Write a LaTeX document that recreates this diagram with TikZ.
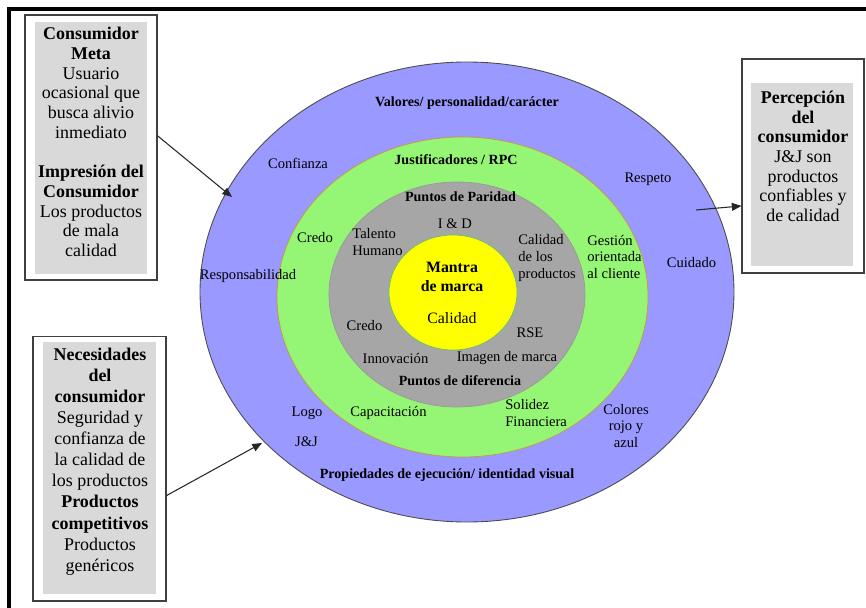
\documentclass[tikz,border=0pt]{standalone}
\usepackage{fontspec}
\setmainfont{Liberation Serif}
\usepackage{tikz}
\usetikzlibrary{arrows.meta}
\definecolor{valblue}{RGB}{153,153,255}
\definecolor{justgreen}{RGB}{148,246,116}
\definecolor{justedge}{RGB}{205,150,60}
\definecolor{paridgray}{RGB}{166,166,166}
\definecolor{mantrayellow}{RGB}{255,255,0}
\definecolor{boxgray}{RGB}{217,217,217}
\tikzset{>/.tip={Triangle[length=5.5pt,width=4.5pt]},
  lbl/.style={font=\fontsize{8.3}{9.6}\selectfont, inner sep=0pt, align=center},
  ttl/.style={font=\fontsize{8}{9.6}\selectfont\bfseries, inner sep=0pt},
  boxtxt/.style={font=\fontsize{10.2}{11.2}\selectfont, inner sep=0pt, align=center},
  frame/.style={draw=black!75, fill=white, line width=0.6pt, inner sep=0pt},
  panel/.style={fill=boxgray, inner sep=0pt}}

\begin{document}
\begin{tikzpicture}[x=0.02cm, y=-0.02cm]
\useasboundingbox (0,0) rectangle (866,608);
\draw[line width=2pt] (9,608) -- (9,9) -- (866,9);
% brand circles
\filldraw[fill=valblue, draw=black!70, line width=0.5pt] (467,292) ellipse [x radius=267, y radius=230];
\filldraw[fill=justgreen, draw=justedge, line width=0.4pt] (462.5,297) ellipse [x radius=185.5, y radius=160];
\filldraw[fill=paridgray, draw=black!40, line width=0.4pt] (457,294.5) ellipse [x radius=128, y radius=112.5];
\filldraw[fill=mantrayellow, draw=green!60!black!60, line width=0.4pt] (453,292.5) ellipse [x radius=64, y radius=57.5];
% side boxes
\node[frame, minimum width=2.64cm, minimum height=5.3cm] (cmeta) at (91,147.5) {};
\node[panel, minimum width=2.24cm, minimum height=5.04cm] (cmetap) at (91,148) {};
\node[boxtxt] (cmetat) at (91,142) {\textbf{Consumidor}\\\textbf{Meta}\\Usuario\\ocasional que\\busca alivio\\inmediato\\[11.2pt]\textbf{Impresión del}\\\textbf{Consumidor}\\Los productos\\de mala\\calidad};
\node[frame, minimum width=2.66cm, minimum height=5.3cm] (cneeds) at (99.5,468.5) {};
\node[panel, minimum width=2.26cm, minimum height=5.04cm] (cneedsp) at (99.5,468) {};
\node[boxtxt, font=\fontsize{10.2}{12}\selectfont] (cneedst) at (100,461.5) {\textbf{Necesidades}\\\textbf{del}\\\textbf{consumidor}\\Seguridad y\\confianza de\\la calidad de\\los productos\\\textbf{Productos}\\\textbf{competitivos}\\Productos\\genéricos};
\node[frame, minimum width=2.44cm, minimum height=4.28cm] (percep) at (803,166) {};
\node[panel, minimum width=2.04cm, minimum height=3.66cm] (percepp) at (802,174.5) {};
\node[boxtxt] (percept) at (803,156.5) {\textbf{Percepción}\\\textbf{del}\\\textbf{consumidor}\\J\&J son\\productos\\confiables y\\de calidad};
% ring labels
\node[ttl] (valores) at (467,103) {Valores/ personalidad/carácter};
\node[lbl] (confianza) at (298,163) {Confianza};
\node[lbl] (respeto) at (648,179) {Respeto};
\node[lbl] (cuidado) at (691.5,263) {Cuidado};
\node[lbl] (respons) at (248,276) {Responsabilidad};
\node[lbl] (logo) at (307,413) {Logo};
\node[lbl] (jj) at (306.5,442) {J\&J};
\node[lbl] (colores) at (626,426) {Colores\\rojo y\\azul};
\node[ttl] (propied) at (447,475) {Propiedades de ejecución/ identidad visual};
\node[ttl] (justif) at (456,160) {Justificadores / RPC};
\node[lbl] (credoj) at (315,238) {Credo};
\node[lbl, align=left, anchor=west] (gestion) at (587,257) {Gestión\\orientada\\al cliente};
\node[lbl] (capacit) at (388.5,413) {Capacitación};
\node[lbl, align=left, anchor=west] (solidez) at (505,413) {Solidez\\Financiera};
\node[ttl] (paridad) at (460.5,197) {Puntos de Paridad};
\node[lbl] (iyd) at (455,224) {I \& D};
\node[lbl, align=left, anchor=west] (talento) at (352,242) {Talento\\Humano};
\node[lbl, align=left, anchor=west] (calprod) at (518,258) {Calidad\\de los\\productos};
\node[lbl] (credop) at (364.5,326) {Credo};
\node[lbl] (rse) at (530,333) {RSE};
\node[lbl] (innov) at (395.5,358) {Innovación};
\node[lbl] (imagen) at (507,358) {Imagen de marca};
\node[ttl] (diferen) at (460,381) {Puntos de diferencia};
\node[ttl, font=\fontsize{9}{10.8}\selectfont\bfseries, align=center] (mantra) at (452,276.5) {Mantra\\de marca};
\node[lbl, font=\fontsize{9}{10.8}\selectfont] (calidad) at (452,318) {Calidad};
% arrows
\coordinate (tipmeta) at (232,197);
\coordinate (tipneeds) at (262,443);
\coordinate (fromring) at (696,210);
\draw[->, line width=0.6pt, black!85] (cmeta.10) -- (tipmeta);
\draw[->, line width=0.6pt, black!85] (cneeds.-22) -- (tipneeds);
\draw[->, line width=0.6pt, black!85] (fromring) -- (percep.213);
\end{tikzpicture}
\end{document}
